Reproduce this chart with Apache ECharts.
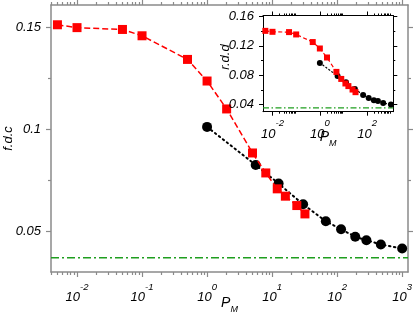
<!DOCTYPE html>
<html>
<head>
<meta charset="utf-8">
<script src="https://cdn.jsdelivr.net/npm/echarts@6/dist/echarts.min.js"></script>
<style>
html,body{margin:0;padding:0;background:#fff;}
#c{width:415px;height:317px;}
</style>
</head>
<body>
<div id="c"></div>
<script>
// ---- data ----
const pmRed = [0.005, 0.01, 0.05, 0.1, 0.5, 1, 2, 5, 8, 12, 16, 24, 32];
const fdcRed = [0.1513, 0.1499, 0.1490, 0.1459, 0.1343, 0.1237, 0.1100, 0.0884, 0.0786, 0.0708, 0.0672, 0.0626, 0.0585];
const pmBlack = [1, 5.6, 12.6, 30, 67, 115, 190, 282, 470, 1000];
const fdcBlack = [0.1012, 0.0825, 0.0734, 0.0632, 0.0549, 0.0510, 0.0473, 0.0456, 0.0435, 0.0415];
const rddRed = [0.1405, 0.1392, 0.1388, 0.1356, 0.1252, 0.1164, 0.1041, 0.0844, 0.0748, 0.0686, 0.0650, 0.0603, 0.0567];
const rddBlack = [0.0967, 0.0789, 0.0703, 0.0611, 0.0529, 0.0488, 0.0456, 0.0447, 0.0419, 0.0400];
const fdcRef = 0.037;
const rddRef = 0.0353;
const mainXTickExp = [-2, -1, 0, 1, 2, 3];
const mainYTicks = [0.05, 0.1, 0.15];
const mainYMinor = [0.075, 0.125];
const insetXTickExp = [-2, 0, 2];
const insetYTicks = [0.04, 0.08, 0.12, 0.16];
const insetYMinor = [0.06, 0.10, 0.14];

// ---- helpers ----
const FONT = 'Liberation Sans';
const toLog = (xs, ys) => xs.map((x, i) => [Math.log10(x), ys[i]]);
function minorTicks(decades, lo, hi) {
  const out = [];
  decades.forEach(d => { for (let k = 2; k <= 9; k++) { const v = Math.log10(k) + d; if (v > lo && v < hi) out.push(v); } });
  return out;
}
const MX = [-2.4, 3.09], MY = [0.030, 0.161];
const IX = [-2.4, 3.10], IY = [0.030, 0.1615];
const mainMinorX = minorTicks([-3, -2, -1, 0, 1, 2, 3], MX[0], MX[1]);
const insetMinorX = minorTicks([-2, 0, 2], IX[0], IX[1]);

const supRich = {
  b: { fontFamily: FONT, fontStyle: 'italic', fontSize: 13, color: '#000', lineHeight: 22, verticalAlign: 'bottom' },
  s: { fontFamily: FONT, fontStyle: 'italic', fontSize: 9.5, color: '#000', lineHeight: 10, verticalAlign: 'top' }
};
const subRich = {
  p: { fontFamily: FONT, fontStyle: 'italic', fontSize: 14, color: '#000', lineHeight: 18, verticalAlign: 'top' },
  m: { fontFamily: FONT, fontStyle: 'italic', fontSize: 9, color: '#000', lineHeight: 9, verticalAlign: 'bottom' }
};

function axisCommon(o) {
  const a = {
    type: 'value', gridIndex: o.grid, position: o.pos, min: o.ext[0], max: o.ext[1],
    axisLine: { show: !!o.line, onZero: false, lineStyle: { color: o.color, width: o.lw || 1 } },
    axisTick: { show: true, inside: false, customValues: o.ticks, length: o.len, lineStyle: { color: o.color, width: o.tw || 1 } },
    splitLine: { show: false },
    nameMoveOverlap: false
  };
  if (o.z) a.z = o.z;
  return a;
}
function xAxis(o) {
  const a = axisCommon(o);
  a.axisLabel = o.labels ? {
    show: true, customValues: o.labels, margin: o.margin,
    formatter: v => '{b|10}{s|' + Math.round(v) + '}', rich: supRich
  } : { show: false };
  if (o.name) {
    a.name = o.name; a.nameLocation = 'middle'; a.nameGap = o.nameGap;
    a.nameTextStyle = { rich: subRich };
  }
  return a;
}
function yAxis(o) {
  const a = axisCommon(o);
  a.axisLabel = o.labels ? {
    show: true, customValues: o.labels, margin: o.margin, formatter: v => o.fmt(v),
    fontFamily: FONT, fontStyle: 'italic', fontSize: 13, color: '#000'
  } : { show: false };
  if (o.name) {
    a.name = o.name; a.nameLocation = 'middle'; a.nameGap = o.nameGap;
    a.nameTextStyle = { fontFamily: FONT, fontStyle: 'italic', fontSize: 13, color: '#000', padding: o.namePad || 0 };
  }
  return a;
}

const G = '#8a8a8a';
const xAxes = [
  // main grid (0)
  xAxis({ grid: 0, pos: 'bottom', ext: MX, line: true, color: G, lw: 1.5, tw: 1.2, ticks: mainXTickExp, len: 5, labels: mainXTickExp, margin: 10, name: '{p|P}{m|M}', nameGap: 24 }),
  xAxis({ grid: 0, pos: 'bottom', ext: MX, color: G, tw: 1.2, ticks: mainMinorX, len: 3 }),
  xAxis({ grid: 0, pos: 'top', ext: MX, line: true, color: G, lw: 1.5, tw: 1.2, ticks: mainXTickExp, len: 5 }),
  xAxis({ grid: 0, pos: 'top', ext: MX, color: G, tw: 1.2, ticks: mainMinorX, len: 3 }),
  // inset grid (1)
  xAxis({ grid: 1, pos: 'bottom', ext: IX, line: true, color: '#000', lw: 1, ticks: insetXTickExp, len: 4, labels: insetXTickExp, margin: 7, name: '{p|P}{m|M}', nameGap: 18, z: 4 }),
  xAxis({ grid: 1, pos: 'bottom', ext: IX, color: '#000', ticks: insetMinorX, len: 2, z: 4 }),
  xAxis({ grid: 1, pos: 'top', ext: IX, line: true, color: '#000', lw: 1, ticks: insetXTickExp, len: 4, z: 4 }),
  xAxis({ grid: 1, pos: 'top', ext: IX, color: '#000', ticks: insetMinorX, len: 2, z: 4 })
];
const fmtMain = v => String(+v.toFixed(3));
const fmtInset = v => v.toFixed(2);
const yAxes = [
  yAxis({ grid: 0, pos: 'left', ext: MY, line: true, color: G, lw: 1.5, tw: 1.2, ticks: mainYTicks, len: 5, labels: mainYTicks, margin: 10, fmt: fmtMain, name: 'f.d.c', nameGap: 36 }),
  yAxis({ grid: 0, pos: 'left', ext: MY, color: G, tw: 1.2, ticks: mainYMinor, len: 3 }),
  yAxis({ grid: 0, pos: 'right', ext: MY, line: true, color: G, lw: 1.5, tw: 1.2, ticks: mainYTicks, len: 5 }),
  yAxis({ grid: 0, pos: 'right', ext: MY, color: G, tw: 1.2, ticks: mainYMinor, len: 3 }),
  yAxis({ grid: 1, pos: 'left', ext: IY, line: true, color: '#000', lw: 1, ticks: insetYTicks, len: 4, labels: insetYTicks, margin: 9, fmt: fmtInset, name: 'r.d.d', nameGap: 31, namePad: [0, 0, 0, 13], z: 4 }),
  yAxis({ grid: 1, pos: 'left', ext: IY, color: '#000', ticks: insetYMinor, len: 2, z: 4 }),
  yAxis({ grid: 1, pos: 'right', ext: IY, line: true, color: '#000', lw: 1, ticks: insetYTicks, len: 4, z: 4 }),
  yAxis({ grid: 1, pos: 'right', ext: IY, color: '#000', ticks: insetYMinor, len: 2, z: 4 })
];

const GREEN = '#1f9e1f';
const OB = { left: -60, top: -60, right: -60, bottom: -60 };
const option = {
  animation: false,
  backgroundColor: '#fff',
  grid: [
    { left: 51, top: 5, right: 7, bottom: 45, outerBounds: OB },
    { left: 263, top: 15.5, width: 130.3, height: 96.2, outerBounds: OB,
      show: true, backgroundColor: '#fff', borderWidth: 0, z: 3 }
  ],
  xAxis: xAxes,
  yAxis: yAxes,
  series: [
    { // reference level, main
      type: 'line', xAxisIndex: 0, yAxisIndex: 0, data: [[MX[0], fdcRef], [MX[1], fdcRef]],
      symbol: 'none', lineStyle: { color: GREEN, width: 1.5, type: [8, 3, 2, 3] }, z: 2
    },
    {
      type: 'line', xAxisIndex: 0, yAxisIndex: 0, data: toLog(pmBlack, fdcBlack),
      symbol: 'circle', symbolSize: 10, itemStyle: { color: '#000' },
      lineStyle: { color: '#000', width: 2, type: [1.5, 3.5], cap: 'round' }, z: 2
    },
    {
      type: 'line', xAxisIndex: 0, yAxisIndex: 0, data: toLog(pmRed, fdcRed),
      symbol: 'rect', symbolSize: 9, itemStyle: { color: '#ff0000' },
      lineStyle: { color: '#ff0000', width: 1.5, type: [6, 3] }, z: 3
    },
    { // reference level, inset
      type: 'line', xAxisIndex: 4, yAxisIndex: 4, data: [[IX[0], rddRef], [IX[1], rddRef]],
      symbol: 'none', lineStyle: { color: GREEN, width: 1.2, type: [6, 2.5, 1.5, 2.5] }, z: 5
    },
    {
      type: 'line', xAxisIndex: 4, yAxisIndex: 4, data: toLog(pmBlack, rddBlack),
      symbol: 'circle', symbolSize: 6, itemStyle: { color: '#000' },
      lineStyle: { color: '#000', width: 1.2, type: [1.2, 2.5], cap: 'round' }, z: 5
    },
    {
      type: 'line', xAxisIndex: 4, yAxisIndex: 4, data: toLog(pmRed, rddRed),
      symbol: 'rect', symbolSize: 6, itemStyle: { color: '#ff0000' },
      lineStyle: { color: '#ff0000', width: 1.2, type: [4, 2.5] }, z: 6
    }
  ]
};
const chart = echarts.init(document.getElementById('c'), null, { renderer: 'canvas' });
chart.setOption(option);
</script>
</body>
</html>
